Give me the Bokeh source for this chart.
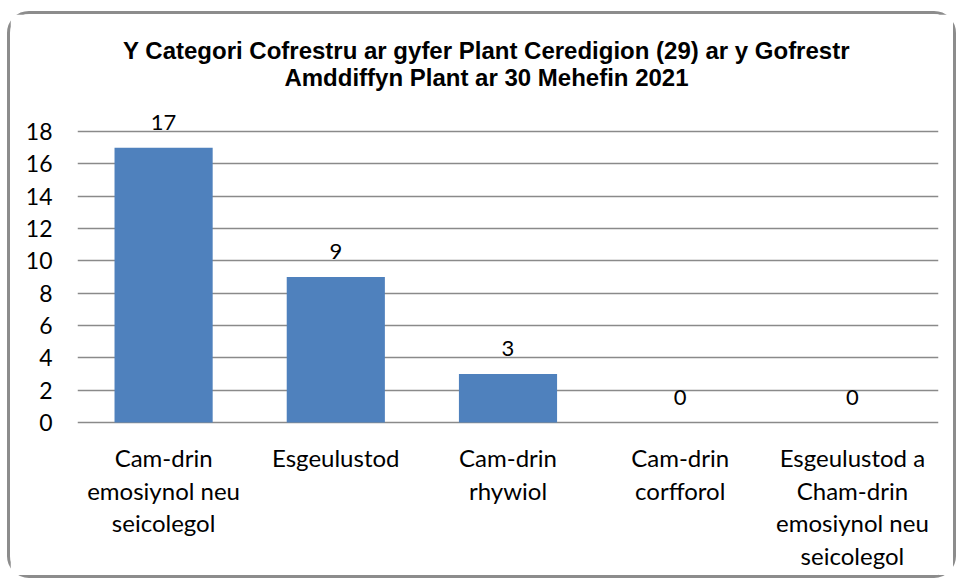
from bokeh.plotting import figure
from bokeh.models import ColumnDataSource, LabelSet, Label, FixedTicker
from bokeh.core.properties import value
from bokeh.embed import file_html
from bokeh.resources import INLINE

categories = [
    "Cam-drin emosiynol neu seicolegol",
    "Esgeulustod",
    "Cam-drin rhywiol",
    "Cam-drin corfforol",
    "Esgeulustod a Cham-drin emosiynol neu seicolegol",
]
category_lines = [
    ["Cam-drin", "emosiynol neu", "seicolegol"],
    ["Esgeulustod"],
    ["Cam-drin", "rhywiol"],
    ["Cam-drin", "corfforol"],
    ["Esgeulustod a", "Cham-drin", "emosiynol neu", "seicolegol"],
]
values = [17, 9, 3, 0, 0]
y_ticks = [0, 2, 4, 6, 8, 10, 12, 14, 16, 18]
title_lines = [
    "Y Categori Cofrestru ar gyfer Plant Ceredigion (29) ar y Gofrestr",
    "Amddiffyn Plant ar 30 Mehefin 2021",
]

BODY_FONT = "Lato"
TITLE_FONT = "Liberation Sans"

# ---- layout constants (canvas pixels; canvas origin = element origin + 3px border) ----
W, H = 949, 567
FRAME_LEFT = 67
FRAME_RIGHT = 21
C18 = 117          # canvas y of the 18 gridline
C0 = 408           # canvas y of the 0 gridline
PPU = (C0 - C18) / 18.0
y_start = -(H - C0) / PPU
y_end = 18 + C18 / PPU
frame_w = W - FRAME_LEFT - FRAME_RIGHT
title_cx = 476 - FRAME_LEFT                 # canvas x of title centre, relative to frame
title_x = title_cx / frame_w * len(categories)

source = ColumnDataSource(data=dict(cat=categories, val=values,
                                    txt=[str(v) for v in values]))

p = figure(
    x_range=categories, y_range=(y_start, y_end),
    width=W, height=H,
    output_backend="svg", toolbar_location=None,
    min_border=0,
)
p.min_border_left = FRAME_LEFT
p.min_border_right = FRAME_RIGHT
p.min_border_top = 0
p.min_border_bottom = 0
p.styles = {"border": "3px solid #8c8c8c", "border-radius": "22px",
            "margin-left": "7px", "margin-top": "11px"}
p.outline_line_color = None
p.background_fill_color = "white"
p.border_fill_color = "white"

p.vbar(x="cat", top="val", width=0.57, source=source,
       fill_color="#4F81BD", line_color=None)

labels = LabelSet(x="cat", y="val", text="txt", source=source,
                  text_align="center", text_baseline="bottom", y_offset=18,
                  text_font=value(BODY_FONT), text_font_size="22px",
                  text_color="black")
p.add_layout(labels)

# y axis
p.yaxis.ticker = FixedTicker(ticks=y_ticks)
p.yaxis.axis_line_color = None
p.yaxis.major_tick_line_color = None
p.yaxis.minor_tick_line_color = None
p.yaxis.major_label_standoff = 19
p.yaxis.major_label_text_font = BODY_FONT
p.yaxis.major_label_text_font_size = "23px"
p.yaxis.major_label_text_color = "black"

p.xaxis.visible = False
p.xgrid.grid_line_color = None
p.ygrid.grid_line_color = "#8a8a8a"
p.ygrid.grid_line_width = 1.5

# category labels, one row per text line
lx, ly, lt = [], [], []
for cat, lines in zip(categories, category_lines):
    for i, t in enumerate(lines):
        lx.append(cat)
        ly.append(-(35 + 32.7 * i) / PPU)
        lt.append(t)
p.text(x=lx, y=ly, text=lt, text_align="center", text_baseline="middle",
       text_font=value(BODY_FONT), text_font_size="24px", text_color="black")

# title
for line, cy in zip(title_lines, [36, 63]):
    p.add_layout(Label(x=title_x, y=18 + (C18 - cy) / PPU, text=line,
                       text_align="center", text_baseline="middle",
                       text_font=TITLE_FONT, text_font_style="bold",
                       text_font_size="24px", text_color="black"))

open("out.html", "w").write(file_html(p, INLINE))
